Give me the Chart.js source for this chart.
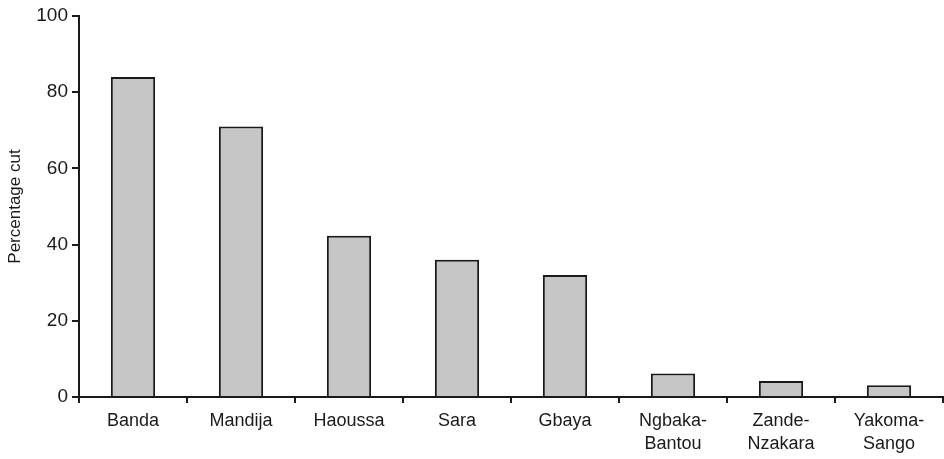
<!DOCTYPE html>
<html>
<head>
<meta charset="utf-8">
<script src="https://cdn.jsdelivr.net/npm/chart.js@4/dist/chart.umd.min.js"></script>
<style>
html,body{margin:0;padding:0;background:#fff;}
#wrap{width:944px;height:459px;position:relative;}
</style>
</head>
<body>
<div id="wrap"><canvas id="c"></canvas></div>
<script>
const categories = [["Banda"],["Mandija"],["Haoussa"],["Sara"],["Gbaya"],["Ngbaka-","Bantou"],["Zande-","Nzakara"],["Yakoma-","Sango"]];
const percentageCut = [84, 71, 42.3, 36, 32, 6.2, 4.2, 3.1];
const yTicks = [0, 20, 40, 60, 80, 100];

const FONT = 'Liberation Sans, Arial, sans-serif';

new Chart(document.getElementById('c'), {
  type: 'bar',
  data: {
    labels: categories,
    datasets: [{
      data: percentageCut,
      backgroundColor: '#c6c6c6',
      borderColor: '#1a1a1a',
      borderWidth: 2,
      borderSkipped: 'start',
      barPercentage: 0.41,
      categoryPercentage: 1.0
    }]
  },
  options: {
    responsive: true,
    maintainAspectRatio: false,
    animation: false,
    layout: { padding: { top: 16, right: 1, left: 5, bottom: 0 } },
    plugins: { legend: { display: false }, tooltip: { enabled: false } },
    scales: {
      x: {
        grid: { display: true, offset: true, drawOnChartArea: false, drawTicks: true, tickLength: 6, color: '#1a1a1a', lineWidth: 2 },
        border: { display: true, color: '#1a1a1a', width: 2 },
        ticks: { color: '#1a1a1a', font: { family: FONT, size: 18, lineHeight: 1.3 }, padding: 6, maxRotation: 0, autoSkip: false },
        afterFit: (s) => { s.height = 62; }
      },
      y: {
        min: 0, max: 100,
        afterBuildTicks: (s) => { s.ticks = yTicks.map(v => ({ value: v })); },
        grid: { display: true, drawOnChartArea: false, drawTicks: true, tickLength: 7, color: '#1a1a1a', lineWidth: 2 },
        border: { display: true, color: '#1a1a1a', width: 2 },
        ticks: { color: '#1a1a1a', font: { family: FONT, size: 19 }, padding: 4 },
        title: { display: true, text: 'Percentage cut', color: '#1a1a1a', font: { family: FONT, size: 17 }, padding: { top: 0, bottom: 4 } },
        afterFit: (s) => { s.width = 74; }
      }
    }
  }
});
</script>
</body>
</html>
